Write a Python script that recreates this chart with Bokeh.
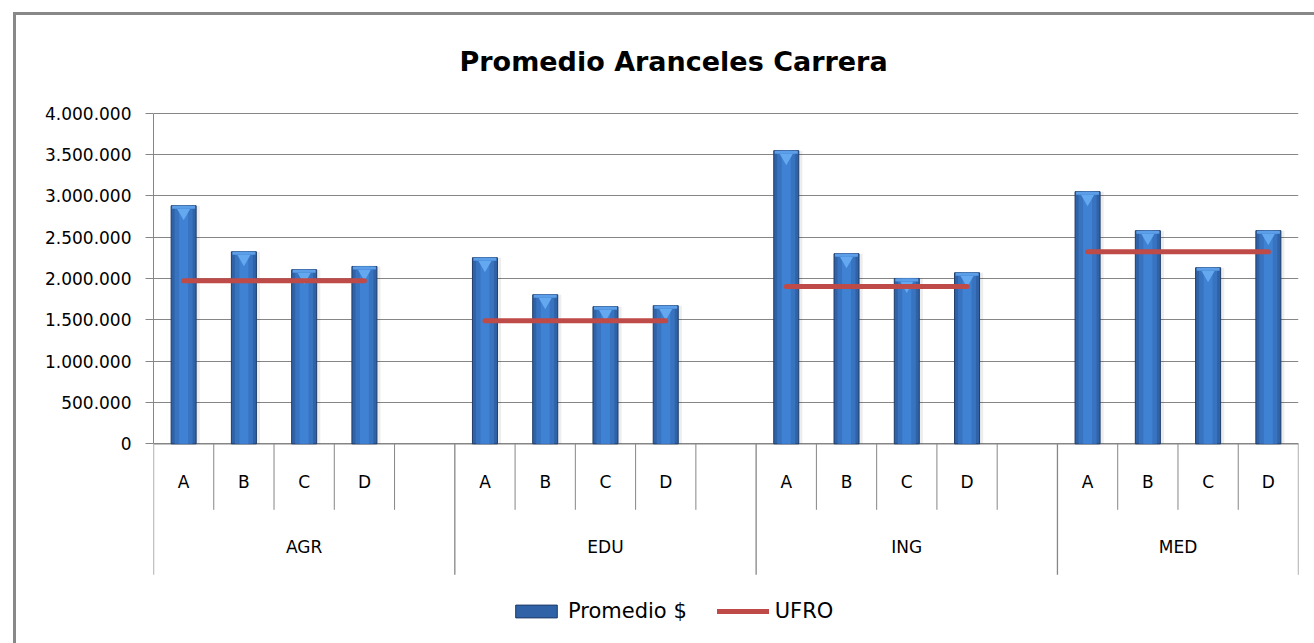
from bokeh.plotting import figure
from bokeh.models import Range1d, FixedTicker, Legend, LegendItem, ColumnDataSource
from bokeh.core.properties import value
from bokeh.embed import file_html
from bokeh.resources import INLINE

# ---------------- data ----------------
title_text = "Promedio Aranceles Carrera"
groups = ["AGR", "EDU", "ING", "MED"]
subs = ["A", "B", "C", "D"]
promedio_agr = [2881000, 2324000, 2107000, 2146000]
promedio_edu = [2252000, 1804000, 1659000, 1671000]
promedio_ing = [3547000, 2300000, 2001000, 2070000]
promedio_med = [3051000, 2579000, 2131000, 2579000]
ufro = [1973000, 1489000, 1904000, 2324000]
y_ticks = [0, 500000, 1000000, 1500000, 2000000, 2500000, 3000000, 3500000, 4000000]
series_names = ["Promedio $", "UFRO"]

promedio = [promedio_agr, promedio_edu, promedio_ing, promedio_med]

# ---------------- layout helpers ----------------
W, H = 1314, 643
FL, FR, FT, FB = 153, 16, 100, 10
FRAME_H = H - FT - FB
Y_START, Y_END = -2295000, 4154000
UNIT_PER_PX = (Y_END - Y_START) / FRAME_H


def below(px):
    return -px * UNIT_PER_PX


# slots: each group gets its sub-categories plus an empty slot (except the last)
slots = [len(subs) + (1 if i < len(groups) - 1 else 0) for i in range(len(groups))]
starts = []
acc = 0
for s in slots:
    starts.append(acc)
    acc += s
n_slots = acc

bar_x, bar_top, bar_lbl = [], [], []
for gi, g in enumerate(groups):
    for si, sname in enumerate(subs):
        bar_x.append(starts[gi] + si + 0.5)
        bar_top.append(promedio[gi][si])
        bar_lbl.append(sname)

group_cx = [starts[gi] + slots[gi] / 2 for gi in range(len(groups))]
ufro_x0 = [starts[gi] + 0.5 for gi in range(len(groups))]
ufro_x1 = [starts[gi] + len(subs) - 0.5 for gi in range(len(groups))]

inner_x = []
for gi in range(len(groups)):
    for k in range(1, slots[gi]):
        inner_x.append(starts[gi] + k)
outer_x = starts + [n_slots]

# ---------------- figure ----------------
p = figure(width=W, height=H, output_backend="svg", toolbar_location=None,
           x_range=Range1d(0, n_slots), y_range=Range1d(Y_START, Y_END),
           x_axis_location=None,
           min_border_left=FL, min_border_right=FR, min_border_top=FT, min_border_bottom=FB)
p.outline_line_color = None
p.border_fill_color = None
p.background_fill_color = None
p.styles = {"box-shadow": "inset 13px 12px 0 0 #ffffff, inset 16px 15px 0 0 #888888"}

p.title.text = title_text
p.title.align = "left"
p.title.offset = 306
p.title.standoff = 48
p.title.text_font = "DejaVu Sans"
p.title.text_font_size = "27px"
p.title.text_font_style = "bold"
p.title.text_color = "#000000"

tk = FixedTicker(ticks=y_ticks, minor_ticks=[])
ax = p.yaxis[0]
ax.ticker = tk
ax.bounds = (0, max(y_ticks))
ax.major_label_overrides = {t: f"{t:,}".replace(",", ".") for t in y_ticks}
ax.axis_line_color = "#868686"
ax.major_tick_line_color = "#868686"
ax.major_tick_out = 8
ax.major_tick_in = 0
ax.minor_tick_line_color = None
ax.major_label_standoff = 14
ax.major_label_text_font = "DejaVu Sans"
ax.major_label_text_font_size = "17px"
ax.major_label_text_color = "#000000"

p.xgrid.visible = False
p.ygrid.ticker = tk
p.ygrid.grid_line_color = "#868686"
p.ygrid.grid_line_width = 1

# ---------------- category table ----------------
p.segment(x0=inner_x, y0=0, x1=inner_x, y1=below(66), line_color="#868686", line_width=1)
p.segment(x0=outer_x, y0=0, x1=outer_x, y1=below(131), line_color="#868686", line_width=1.3)
p.segment(x0=[0], y0=[0], x1=[n_slots], y1=[0], line_color="#868686", line_width=1.5)

p.text(x=bar_x, y=[below(38)] * len(bar_x), text=bar_lbl, text_align="center",
       text_baseline="middle", text_font=value("DejaVu Sans"), text_font_size="17px",
       text_color="#000000")
p.text(x=group_cx, y=[below(103)] * len(group_cx), text=groups, text_align="center",
       text_baseline="middle", text_font=value("DejaVu Sans"), text_font_size="17px",
       text_color="#000000")

# ---------------- bars ----------------
BW = 0.415
src = ColumnDataSource(dict(
    x=bar_x, top=bar_top,
    xs=[x + 0.06 for x in bar_x],
    cap_bottom=[t - 3 * UNIT_PER_PX for t in bar_top],
    tri_y=[t - 7 * UNIT_PER_PX for t in bar_top],
))
p.vbar(x="xs", top="top", bottom=0, width=BW, source=src, fill_color="#000000",
       fill_alpha=0.07, line_color=None)
bars = p.vbar(x="x", top="top", bottom=0, width=BW, source=src, fill_color="#2F62A6",
              line_color="#1E3C68", line_width=1)
p.vbar(x="x", top="top", bottom=0, width=BW * 0.72, source=src, fill_color="#3873C0",
       line_color=None)
p.vbar(x="x", top="top", bottom=0, width=BW * 0.36, source=src, fill_color="#3F81D2",
       line_color=None)
p.vbar(x="x", top="top", bottom="cap_bottom", width=BW * 0.92, source=src,
       fill_color="#5C9FE8", line_color=None)
p.scatter(x="x", y="tri_y", marker="inverted_triangle", size=13, source=src,
          fill_color="#64A8F0", line_color=None)

# ---------------- UFRO ----------------
uline = p.segment(x0=ufro_x0, y0=ufro, x1=ufro_x1, y1=ufro, line_color="#BE4B48",
                  line_width=5, line_cap="round")

legend = Legend(items=[LegendItem(label=series_names[0], renderers=[bars]),
                       LegendItem(label=series_names[1], renderers=[uline])],
                orientation="horizontal", location=(357, 10),
                glyph_width=52, glyph_height=16, label_standoff=6, spacing=30,
                padding=0, margin=0, border_line_color=None, background_fill_alpha=0,
                label_text_font="DejaVu Sans", label_text_font_size="21px",
                label_text_color="#000000")
p.add_layout(legend)

open("out.html", "w").write(file_html(p, INLINE))
